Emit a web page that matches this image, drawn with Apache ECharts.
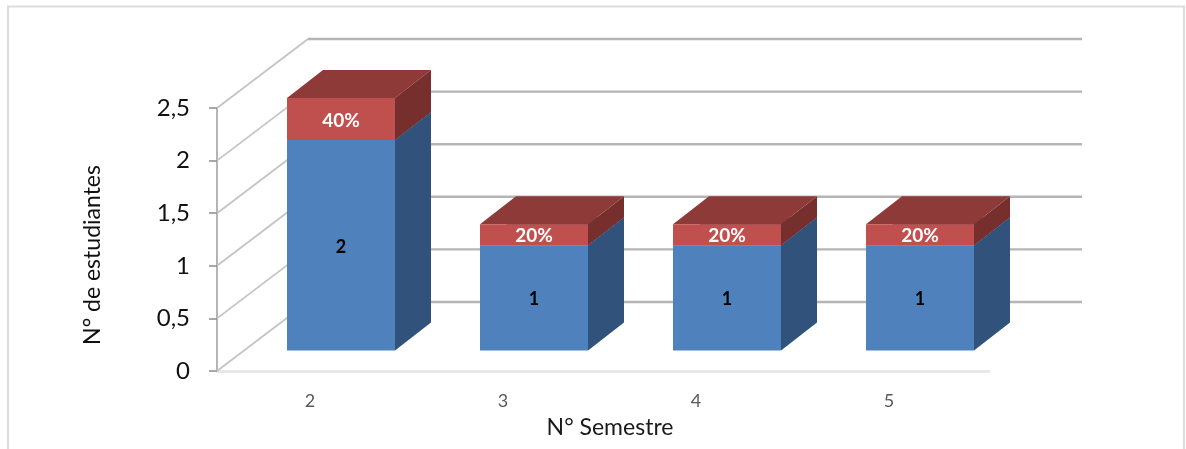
<!DOCTYPE html>
<html>
<head>
<meta charset="utf-8">
<style>html,body{margin:0;padding:0;background:#fff;overflow:hidden}#c{width:1186px;height:449px}</style>
<script src="https://cdn.jsdelivr.net/npm/echarts@6/dist/echarts.min.js"></script>
</head>
<body>
<div id="c"></div>
<script>
const categories = ['2', '3', '4', '5'];
const students = [2, 1, 1, 1];
const shares = [0.4, 0.2, 0.2, 0.2];
const shareLabels = ['40%', '20%', '20%', '20%'];
const studentLabels = ['2', '1', '1', '1'];
const yTicks = [0, 0.5, 1, 1.5, 2, 2.5];

const FONT = 'Lato, "Open Sans", sans-serif';
const DEPTH = [91, -69], BOX = [36, -28], OFFSET = [27.5, -20.5], BAR_W = 108, LABEL_DY = 1.5;

function wallItem(params, api) {
  const cs = params.coordSys;
  const y = api.coord([0, api.value(0)])[1];
  const x0 = cs.x, x1 = x0 + DEPTH[0], y1 = y + DEPTH[1], x2 = x1 + cs.width + 2;
  return {
    type: 'group', children: [
      { type: 'line', shape: { x1: x0, y1: y, x2: x1, y2: y1 }, style: { stroke: '#c4c4c4', lineWidth: 1.8 } },
      { type: 'line', shape: { x1: x1, y1: y1, x2: x2, y2: y1 }, style: { stroke: '#b5b5b5', lineWidth: 2.4 } }
    ]
  };
}

function boxItem(colors, textColor, fontSize) {
  return function (params, api) {
    const i = api.value(0), base = api.value(1), top = api.value(2);
    const c0 = api.coord([i, base]), c1 = api.coord([i, top]);
    const l = c0[0] + OFFSET[0] - BAR_W / 2, r = l + BAR_W;
    const b = c0[1] + OFFSET[1], t = c1[1] + OFFSET[1];
    const dx = BOX[0], dy = BOX[1];
    const label = api.value(3);
    return {
      type: 'group', children: [
        { type: 'polygon', shape: { points: [[l, t], [r, t], [r + dx, t + dy], [l + dx, t + dy]] }, style: { fill: colors[1] } },
        { type: 'polygon', shape: { points: [[r, b], [r + dx, b + dy], [r + dx, t + dy], [r, t]] }, style: { fill: colors[2] } },
        { type: 'rect', shape: { x: l, y: t, width: BAR_W, height: b - t }, style: { fill: colors[0] } },
        { type: 'text', x: (l + r) / 2, y: (t + b) / 2 + LABEL_DY, style: { text: label, fill: textColor, font: 'bold ' + fontSize + 'px ' + FONT, textAlign: 'center', textVerticalAlign: 'middle' } }
      ]
    };
  };
}

const blueData = categories.map((c, i) => [i, 0, students[i], studentLabels[i]]);
const redData = categories.map((c, i) => [i, students[i], students[i] + shares[i], shareLabels[i]]);

const chart = echarts.init(document.getElementById('c'), null, { renderer: 'canvas' });
chart.setOption({
  animation: false,
  backgroundColor: '#fff',
  graphic: [{
    type: 'rect', silent: true, z: -10,
    shape: { x: 8, y: 6.5, width: 1176, height: 460 },
    style: { fill: 'none', stroke: '#dcdcdc', lineWidth: 2 }
  }],
  grid: { left: 217, top: 108, width: 772, height: 263, outerBoundsMode: 'none' },
  xAxis: {
    type: 'category', data: categories,
    axisLine: { show: true, lineStyle: { color: '#e8e8e8', width: 3 } },
    axisTick: { show: false },
    axisLabel: { color: '#595959', fontSize: 18, fontFamily: FONT, margin: 21, padding: [0, 7, 0, 0] },
    name: 'N° Semestre', nameLocation: 'middle', nameGap: 45,
    nameTextStyle: { color: '#1a1a1a', fontSize: 23, fontFamily: FONT, padding: [0, 0, 0, 14] }
  },
  yAxis: {
    type: 'value', min: 0, max: 2.5, interval: 0.5,
    axisLine: { show: true, lineStyle: { color: '#b5b5b5', width: 2 } },
    axisTick: { show: true, length: 8, lineStyle: { color: '#8c8c8c', width: 1.5 } },
    splitLine: { show: false },
    axisLabel: { color: '#111', fontSize: 24, fontFamily: FONT, margin: 27, padding: [4, 0, 0, 0], formatter: v => String(v).replace('.', ',') },
    name: 'N° de estudiantes', nameLocation: 'middle', nameGap: 113, nameRotate: 90,
    nameTextStyle: { color: '#111', fontSize: 23, fontFamily: FONT, padding: [0, 31, 0, 0] }
  },
  series: [
    { type: 'custom', name: 'walls', z: 1, silent: true, data: yTicks.map(v => [v]), renderItem: wallItem, encode: { y: 0 }, clip: false },
    { type: 'custom', name: 'Estudiantes', z: 3, data: blueData, renderItem: boxItem(['#4f81bd', '#3f6797', '#31527a'], '#000', 18), encode: { x: 0, y: 2 }, clip: false },
    { type: 'custom', name: 'Porcentaje', z: 4, data: redData, renderItem: boxItem(['#c0504d', '#8e3a38', '#772f2d'], '#fff', 19), encode: { x: 0, y: 2 }, clip: false }
  ]
});
</script>
</body>
</html>
